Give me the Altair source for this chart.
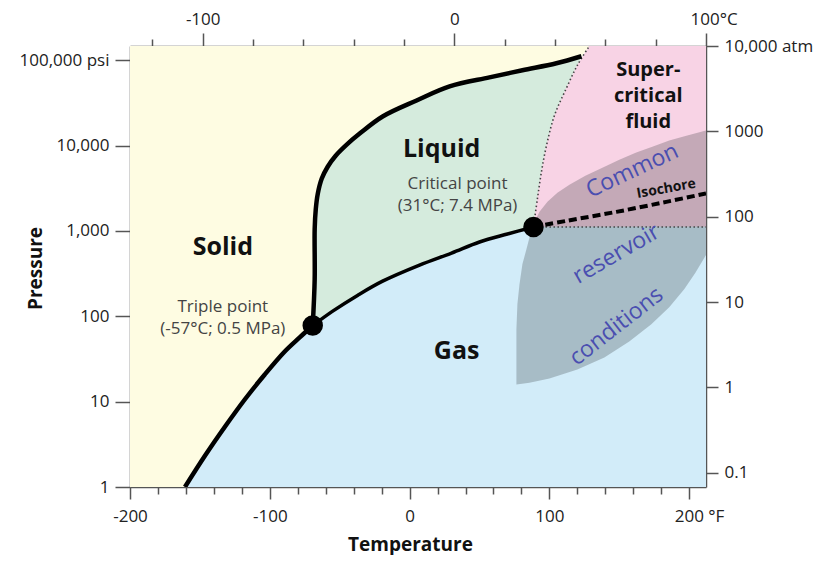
import altair as alt
import pandas as pd

FONT = "Open Sans"

# ---------------- data (°F, psi) ----------------
P_BOTTOM = 1.0
P_TOP = 146960.0          # = 10,000 atm
F_MIN, F_MAX = -200.0, 212.0
C_MIN, C_MAX = -128.89, 100.0
ATM_MIN, ATM_MAX = 0.068046, 10000.0

# solid-gas (sublimation) curve
SUB_F = [-160.7, -146.4, -132.1, -117.9, -103.6, -89.3, -78.6, -69.3]
SUB_P = [1.0, 2.32, 5.08, 10.6, 20.8, 38.7, 56.6, 78.0]

# solid-liquid (melting) curve
MELT_F = [-69.3, -67.9, -67.9, -67.1, -65.7, -62.9, -58.6, -52.9, -45.0, -35.7, -19.3,
          5.0, 28.6, 57.1, 80.7, 105.0, 122.9]
MELT_P = [78.0, 272, 1056, 1815, 2725, 4090, 5660, 7620, 10280, 13840, 21950,
          33830, 49430, 63100, 76300, 92200, 111400]

# liquid-gas (vaporization) curve
VAP_F = [-69.3, -55.0, -37.0, -19.3, 7.1, 30.0, 50.0, 70.0, 88.6]
VAP_P = [78.0, 115, 177, 258, 398, 551, 743, 922, 1114]

# dotted boundary liquid / supercritical
CRIT_F = [88.6, 91.4, 94.3, 97.9, 103.6, 112.1, 120.0, 128.6]
CRIT_P = [1114, 2378, 4940, 10000, 22540, 46900, 87300, 146960]

# dashed isochore
ISO_F = [88.6, 112.1, 147.9, 183.6, 212.0]
ISO_P = [1114, 1312, 1674, 2193, 2750]

# common reservoir conditions (lens)
LENS_F = [76.4, 76.4, 76.4, 77.1, 78.6, 80.7, 83.6, 86.4, 89.3,
          92.9, 98.6, 105.7, 114.3, 125.7, 137.9, 150.0, 162.1, 173.6, 185.7, 198.6, 212.0,
          212.0, 204.3, 196.4, 185.7, 172.9, 157.1, 139.3, 120.0, 100.0, 85.7]
LENS_P = [15.9, 35.7, 70.3, 138, 238, 409, 614, 922, 1276,
          1674, 2193, 2800, 3476, 4436, 5510, 6840, 8280, 9730, 11450, 13120, 15000,
          522, 321, 208, 128, 80.5, 50.8, 32.9, 23.8, 18.7, 16.7]

# special points
POINT_F = [-69.3, 88.6]
POINT_P = [78.0, 1114]

# labels (anchor = first text line)
PHASE_TEXT = ["Solid", "Liquid", "Gas"]
PHASE_F = [-133.6, 22.9, 33.6]
PHASE_P = [649, 9220, 38.7]

SUPER_TEXT = ["Super-\ncritical\nfluid"]
SUPER_F = [170.7]
SUPER_P = [76300]

NOTE_TEXT = ["Triple point\n(-57°C; 0.5 MPa)", "Critical point\n(31°C; 7.4 MPa)"]
NOTE_F = [-133.6, 34.3]
NOTE_P = [128, 3590]

RES_TEXT = ["Common", "reservoir", "conditions"]
RES_F = [159.3, 147.9, 147.9]
RES_P = [5080, 536, 76.3]

ISO_TEXT = ["Isochore"]
ISO_LF = [183.6]
ISO_LP = [3120]

# axis ticks and labels
F_TICKS = [-200, -180, -160, -140, -120, -100, -80, -60, -40, -20, 0, 20, 40, 60, 80, 100, 120, 140, 160, 180, 200]
F_MAJOR = [-200, -100, 0, 100, 200]
F_LABELS = ["-200", "-100", "0", "100", "200 °F"]
C_TICKS = [-120, -100, -80, -60, -40, -20, 0, 20, 40, 60, 80, 100]
C_MAJOR = [-100, 0, 100]
C_LABELS = ["-100", "0", "100°C"]
P_TICKS = [1, 10, 100, 1000, 10000, 100000]
P_LABELS = ["1", "10", "100", "1,000", "10,000", "100,000 psi"]
ATM_TICKS = [0.1, 1, 10, 100, 1000, 10000]
ATM_LABELS = ["0.1", "1", "10", "100", "1000", "10,000 atm"]

# ---------------- colours ----------------
C_SOLID = "#fefce2"
C_LIQUID = "#d5ebdd"
C_GAS = "#d2ecf9"
C_SUPER = "#f8d3e5"
C_LENS = "#2f3236"
C_BLUE_TEXT = "#4a4eb0"


def label_expr(values, labels):
    expr = "''"
    for v, l in reversed(list(zip(values, labels))):
        expr = f"datum.value === {v} ? '{l}' : ({expr})"
    return expr


def major_test(values):
    return " || ".join(f"datum.value === {v}" for v in values)


x_axis = alt.Axis(
    values=F_TICKS,
    labelExpr=label_expr(F_MAJOR, F_LABELS),
    tickSize={"condition": {"test": major_test(F_MAJOR), "value": 12}, "value": 7},
    labelAlign={"condition": {"test": f"datum.value === {F_MAJOR[-1]}", "value": "left"}, "value": "center"},
    labelOffset={"condition": {"test": f"datum.value === {F_MAJOR[-1]}", "value": -15}, "value": 0},
    labelPadding=9,
    labelOverlap=False,
    labelFlush=False,
    title="Temperature",
    titleX=280,
    titleY=57,
    titleBaseline="middle",
    titleAlign="center",
)
y_axis = alt.Axis(
    values=P_TICKS,
    labelExpr=label_expr(P_TICKS, P_LABELS),
    tickSize=15,
    labelPadding=6,
    labelOverlap=False,
    labelFlush=False,
    title="Pressure",
    titleX=-95,
    titleY=222,
    titleBaseline="middle",
    titleAlign="center",
)

X = alt.X("F:Q", scale=alt.Scale(domain=[F_MIN, F_MAX], nice=False, zero=False), axis=x_axis)
Y = alt.Y("P:Q", scale=alt.Scale(type="log", domain=[P_BOTTOM, P_TOP], nice=False), axis=y_axis)


def frame(fs, ps, **extra):
    d = {"F": fs, "P": ps, "i": list(range(len(fs)))}
    d.update(extra)
    return pd.DataFrame(d)


def polygon(fs, ps, color, opacity=1.0):
    return alt.Chart(frame(fs, ps)).mark_line(
        interpolate="linear-closed", fill=color, fillOpacity=opacity,
        stroke=color, strokeWidth=0.6 if opacity == 1 else 0,
        clip=True,
    ).encode(x=X, y=Y, order="i:Q")


def curve(fs, ps, width, color="black", dash=None):
    kw = dict(strokeWidth=width, color=color, clip=True, strokeCap="butt", strokeJoin="round",
              interpolate="catmull-rom")
    if dash:
        kw["strokeDash"] = dash
    return alt.Chart(frame(fs, ps)).mark_line(**kw).encode(x=X, y=Y, order="i:Q")


# regions
solid_poly = polygon([F_MIN] + SUB_F + MELT_F[1:] + [CRIT_F[-1], F_MIN],
                     [P_BOTTOM] + SUB_P + MELT_P[1:] + [P_TOP, P_TOP], C_SOLID)
liquid_poly = polygon(MELT_F + CRIT_F[-2::-1] + VAP_F[-2::-1],
                      MELT_P + CRIT_P[-2::-1] + VAP_P[-2::-1], C_LIQUID)
super_poly = polygon(CRIT_F + [F_MAX, F_MAX], CRIT_P + [P_TOP, CRIT_P[0]], C_SUPER)
gas_poly = polygon(SUB_F + VAP_F[1:] + [F_MAX, F_MAX], SUB_P + VAP_P[1:] + [VAP_P[-1], P_BOTTOM], C_GAS)
lens_poly = polygon(LENS_F, LENS_P, C_LENS, opacity=0.26)

# lines
crit_dotted = curve(CRIT_F, CRIT_P, 1.6, "#444", [1.5, 2.5])
horiz_dotted = curve([CRIT_F[0], F_MAX], [CRIT_P[0], CRIT_P[0]], 1.6, "#444", [1.5, 2.5])
iso_line = curve(ISO_F, ISO_P, 4, "black", [8, 4])
sub_line = curve(SUB_F, SUB_P, 4.5)
melt_line = curve(MELT_F, MELT_P, 4.5)
vap_line = curve(VAP_F, VAP_P, 3.5)

points = alt.Chart(frame(POINT_F, POINT_P)).mark_circle(size=420, color="black", opacity=1).encode(x=X, y=Y)

phase_text = alt.Chart(frame(PHASE_F, PHASE_P, t=PHASE_TEXT)).mark_text(
    font=FONT, fontSize=25, fontWeight="bold", color="#111",
    align="center", baseline="middle",
).encode(x=X, y=Y, text="t:N")

super_text = alt.Chart(frame(SUPER_F, SUPER_P, t=SUPER_TEXT)).mark_text(
    font=FONT, fontSize=20, fontWeight="bold", color="#111", lineBreak="\n", lineHeight=26,
    align="center", baseline="middle",
).encode(x=X, y=Y, text="t:N")

note_text = alt.Chart(frame(NOTE_F, NOTE_P, t=NOTE_TEXT)).mark_text(
    font=FONT, fontSize=17, color="#444", lineBreak="\n", lineHeight=22,
    align="center", baseline="middle",
).encode(x=X, y=Y, text="t:N")

RES_ANGLES = [335, 330, 322]
res_layers = []
for k in range(len(RES_TEXT)):
    res_layers.append(
        alt.Chart(frame([RES_F[k]], [RES_P[k]], t=[RES_TEXT[k]])).mark_text(
            font=FONT, fontSize=23, color=C_BLUE_TEXT, angle=RES_ANGLES[k],
            align="center", baseline="middle",
        ).encode(x=X, y=Y, text="t:N")
    )

iso_text = alt.Chart(frame(ISO_LF, ISO_LP, t=ISO_TEXT)).mark_text(
    font=FONT, fontSize=14, fontWeight="bold", color="#111", angle=350,
    align="center", baseline="middle",
).encode(x=X, y=Y, text="t:N")

main = alt.layer(
    solid_poly, liquid_poly, super_poly, gas_poly, lens_poly,
    crit_dotted, horiz_dotted, iso_line, sub_line, melt_line, vap_line,
    points, phase_text, super_text, note_text, *res_layers, iso_text,
)

# secondary axes (°C on top, atm on right)
axes_df = pd.DataFrame({"c": [C_MIN, C_MAX], "atm": [ATM_MIN, ATM_MAX]})
top_axis = alt.Axis(
    orient="top",
    values=C_TICKS,
    labelExpr=label_expr(C_MAJOR, C_LABELS),
    tickSize={"condition": {"test": major_test(C_MAJOR), "value": 13}, "value": 7},
    labelAlign={"condition": {"test": f"datum.value === {C_MAJOR[-1]}", "value": "left"}, "value": "center"},
    labelOffset={"condition": {"test": f"datum.value === {C_MAJOR[-1]}", "value": -16}, "value": 0},
    labelPadding=5,
    labelOverlap=False,
    labelFlush=False,
    title=None,
)
right_axis = alt.Axis(
    orient="right",
    values=ATM_TICKS,
    labelExpr=label_expr(ATM_TICKS, ATM_LABELS),
    tickSize=12,
    labelPadding=6,
    labelOverlap=False,
    labelFlush=False,
    title=None,
)
axes_layer = alt.Chart(axes_df).mark_point(opacity=0).encode(
    x=alt.X("c:Q", scale=alt.Scale(domain=[C_MIN, C_MAX], nice=False, zero=False), axis=top_axis),
    y=alt.Y("atm:Q", scale=alt.Scale(type="log", domain=[ATM_MIN, ATM_MAX], nice=False), axis=right_axis),
)

chart = alt.layer(main, axes_layer).resolve_scale(x="independent", y="independent").properties(
    width=576,
    height=441,
    autosize=alt.AutoSizeParams(type="none"),
    padding={"left": 122, "top": 38, "right": 115, "bottom": 68},
    background="white",
).configure_view(stroke=None).configure_axis(
    grid=False,
    labelFont=FONT,
    labelFontSize=17,
    labelColor="#222",
    domainColor="#555",
    domainWidth=1.5,
    tickColor="#555",
    tickWidth=1.5,
    titleFont=FONT,
    titleFontSize=19,
    titleFontWeight="bold",
    titleColor="#111",
)

chart.save("out.html", embed_options={"renderer": "svg", "actions": False})
